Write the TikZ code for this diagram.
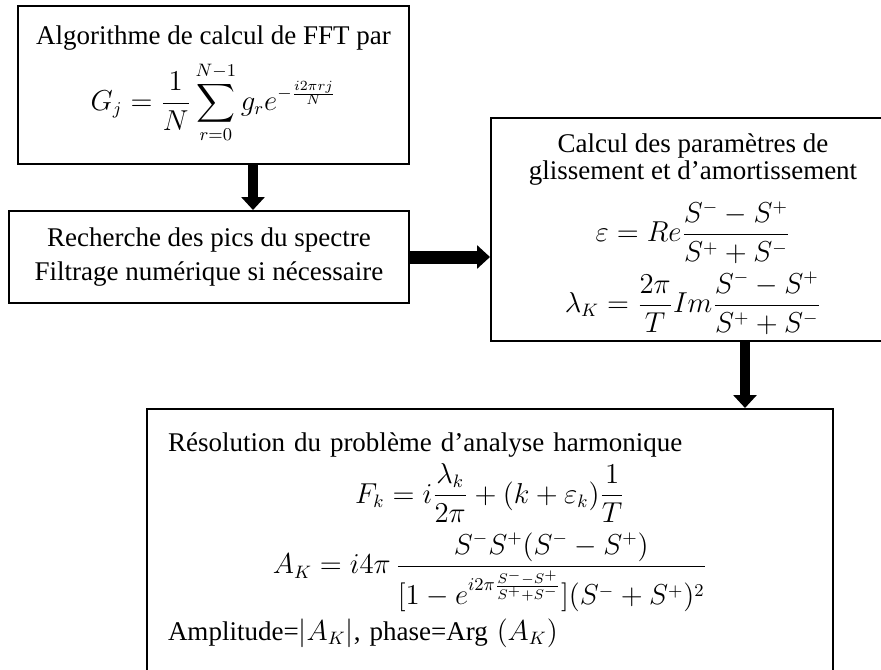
\documentclass[tikz,border=0pt]{standalone}
\usepackage{amsmath,amssymb}
\usepackage{fontspec}
\setmainfont{Liberation Serif}
\usetikzlibrary{arrows.meta,positioning,calc}

\begin{document}
\begin{tikzpicture}[
  x=0.5pt, y=-0.5pt,
  font=\fontsize{13.5}{15}\selectfont,
  box/.style={draw, line width=1pt, inner sep=0pt, align=center},
  arr/.style={-{Triangle[length=6.5pt,width=11.5pt]}, line width=5pt},
  node distance=22.5pt and 40pt]
\useasboundingbox (0,0) rectangle (881,669);
\clip (0,0) rectangle (881,669);
\node[box, anchor=north west, minimum width=195.5pt, minimum height=79pt] (fft) at (17,5)
  {Algorithme de calcul de FFT par\\[4.5pt]
   $\displaystyle G_j=\frac{1}{N}\sum_{r=0}^{N-1}g_r e^{-\frac{i2\pi rj}{N}}$\rule[-17pt]{0pt}{17pt}};
\node[box, below=of fft.south west, anchor=north west, xshift=-4.5pt,
  minimum width=200pt, minimum height=46pt] (pics)
  {Recherche des pics du spectre\\[2pt]Filtrage numérique si nécessaire};
\node[box, right=of pics, yshift=13.75pt, minimum width=202pt, minimum height=111.5pt] (param)
  {\rule{0pt}{14pt}Calcul des paramètres de\\[-1.5pt]glissement et d’amortissement\\[7pt]
   $\displaystyle \varepsilon=Re\frac{S^- - S^+}{S^+ + S^-}$\\[3pt]
   $\displaystyle \lambda_K=\frac{2\pi}{T}Im\frac{S^- - S^+}{S^+ + S^-}$};
\node[box, below=33pt of param.south west, anchor=north west, xshift=-172pt,
  text width=322pt, inner xsep=10.5pt, inner ysep=12pt, align=left] (res)
  {Résolution du problème d’analyse harmonique\par\vspace{2pt}
   {\centering
   $\displaystyle F_k=i\frac{\lambda_k}{2\pi}+(k+\varepsilon_k)\frac{1}{T}$\par\vspace{4pt}
   $\displaystyle A_K=i4\pi\,\frac{S^-S^+(S^- - S^+)}
     {[1-e^{i2\pi\frac{S^- - S^+}{S^+ + S^-}}](S^- + S^+)^2}$\par}
   \vspace{2.5pt}
   Amplitude=$|A_K|$, phase=Arg $(A_K)$\par\vspace*{20pt}};
\draw[arr] ([xshift=19.75pt]fft.south) -- ([xshift=19.75pt]fft.south |- pics.north);
\draw[arr, line width=6.5pt] (pics.east) -- (pics.east -| param.west);
\draw[arr] ([xshift=26pt]param.south) -- ([xshift=26pt]param.south |- res.north);
\end{tikzpicture}
\end{document}
